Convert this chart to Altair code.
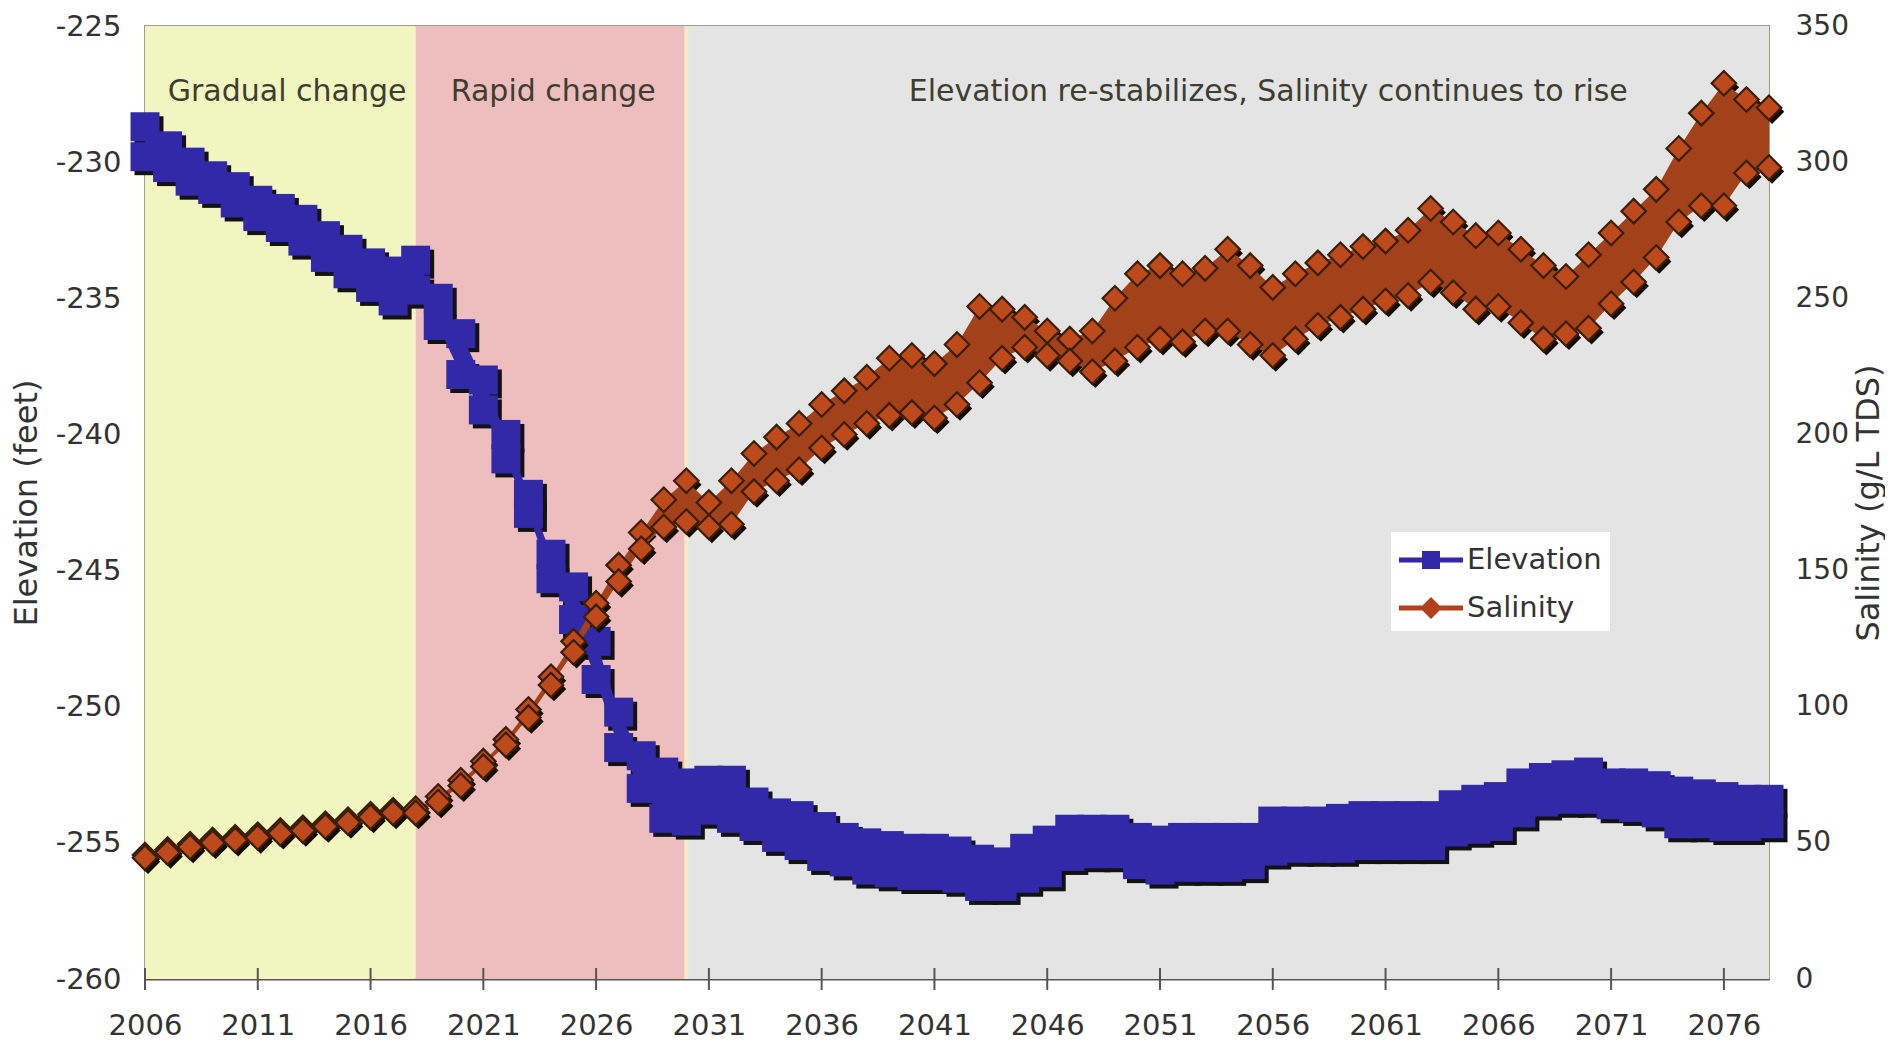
import altair as alt
import pandas as pd

# ---------------- data ----------------
years = list(range(2006, 2079))

# upper / lower edge of the Elevation marker band (feet)
elev_hi = [-228.7, -229.4, -230.0, -230.5, -230.9, -231.4, -231.7, -232.1, -232.7, -233.2,
           -233.7, -234.0, -233.6, -235.0, -236.3, -238.0, -240.0, -242.2, -244.4, -245.6,
           -247.6, -250.2, -251.8, -252.4, -252.8, -252.7, -252.7, -253.5, -253.9, -254.0,
           -254.4, -254.8, -255.0, -255.1, -255.2, -255.2, -255.3, -255.6, -255.7, -255.2,
           -254.9, -254.5, -254.5, -254.5, -254.8, -254.9, -254.8, -254.8, -254.8, -254.8,
           -254.2, -254.2, -254.2, -254.1, -254.0, -254.0, -254.0, -254.0, -253.6, -253.4,
           -253.3, -252.8, -252.6, -252.5, -252.4, -252.8, -252.8, -252.9, -253.1, -253.2,
           -253.3, -253.4, -253.4]
elev_lo = [-229.8, -230.2, -230.7, -231.0, -231.5, -232.0, -232.4, -232.9, -233.5, -234.1,
           -234.6, -235.1, -234.7, -236.0, -237.8, -239.1, -240.9, -242.9, -245.3, -246.8,
           -249.0, -251.5, -253.0, -254.1, -254.2, -253.8, -254.1, -254.4, -254.8, -255.1,
           -255.5, -255.7, -256.0, -256.1, -256.2, -256.2, -256.3, -256.6, -256.6, -256.3,
           -256.1, -255.5, -255.4, -255.4, -255.8, -256.0, -255.9, -255.9, -255.9, -255.8,
           -255.3, -255.2, -255.2, -255.2, -255.1, -255.1, -255.1, -255.1, -254.6, -254.5,
           -254.4, -253.9, -253.5, -253.4, -253.4, -253.6, -253.7, -253.9, -254.3, -254.3,
           -254.4, -254.4, -254.3]

# upper / lower edge of the Salinity marker band (g/L TDS)
sal_hi = [45.5, 47.5, 49.5, 51, 52, 53, 54.5, 55.5, 57, 58.5,
          60.5, 62, 62.5, 67, 73, 80, 88, 99, 111, 124,
          138, 152, 164, 176, 183, 175, 183, 193, 199, 204,
          211, 216, 221, 228, 229, 226, 233, 247, 246, 243,
          238, 235, 238, 250, 259, 262, 259, 261, 268, 262,
          254, 259, 263, 266, 269, 271, 275, 283, 278, 273,
          274, 268, 262, 258, 266, 274, 282, 290, 305, 318,
          329, 323, 320]
sal_lo = [44.5, 46.5, 48.5, 50, 51, 52, 53.5, 54.5, 56, 57.5,
          59.5, 61, 61, 65, 71, 78, 86, 96, 108, 120,
          133, 146, 158, 166, 168, 166, 167, 179, 183, 187,
          195, 200, 204, 207, 208, 206, 211, 219, 228, 232,
          229, 227, 223, 227, 232, 235, 234, 238, 238, 233,
          229, 235, 240, 243, 246, 249, 251, 256, 252, 246,
          247, 241, 235, 237, 239, 248, 256, 265, 278, 284,
          284, 296, 298]

region_start = [2006, 2018, 2030]
region_end = [2018, 2030, 2078]
region_name = ["Gradual change", "Rapid change",
               "Elevation re-stabilizes, Salinity continues to rise"]
region_label_year = [2012.3, 2024.1, 2055.8]
region_color = ["#F1F6C0", "#EEBEBE", "#E4E4E4"]

x_ticks = list(range(2006, 2077, 5))
left_ticks = [-260, -255, -250, -245, -240, -235, -230, -225]
right_ticks = [0, 50, 100, 150, 200, 250, 300, 350]

series = ["Elevation", "Salinity"]
series_color = ["#3129A8", "#B2401C"]

# ---------------- styling ----------------
W, H = 1624, 953
FONT = "DejaVu Sans"
BLUE = "#3129A8"
SAL_FILL = "#BE4A1C"
SAL_BAND = "#A3421A"
TXT = "#333333"

df = pd.DataFrame({"year": years, "elev_hi": elev_hi, "elev_lo": elev_lo,
                   "sal_hi": sal_hi, "sal_lo": sal_lo})
regions = pd.DataFrame({"start": region_start, "end": region_end,
                        "name": region_name, "ly": region_label_year})
ticks_df = pd.DataFrame({"tick": x_ticks})
legend_df = pd.DataFrame({"series": series})
bound_df = pd.DataFrame({"b": [region_start[2]]})

xscale = alt.Scale(domain=[2006, 2078], nice=False, zero=False)
xaxis = alt.Axis(values=x_ticks, format="d", title=None, ticks=False, tickSize=0,
                 domainColor="#555555", domainWidth=2, labelPadding=32,
                 labelFontSize=29, labelColor=TXT, labelFlush=False,
                 labelOverlap=False, grid=False)


def xenc(field):
    return alt.X(field, type="quantitative", scale=xscale, axis=xaxis)


lscale = alt.Scale(domain=[-260, -225], nice=False, zero=False)
laxis = alt.Axis(values=left_ticks, orient="left", ticks=False, tickSize=0, domain=False,
                 labelPadding=24, labelFontSize=29, labelColor=TXT,
                 labelExpr="'' + datum.value",
                 title="Elevation (feet)", titleX=-119, titleY=H / 2, titleAngle=270,
                 titleAlign="center", titleBaseline="middle", titleFontSize=32,
                 titleFontWeight="normal", titleColor=TXT, grid=False,
                 labelFlush=False, labelOverlap=False)
rscale = alt.Scale(domain=[0, 350], nice=False, zero=True)
raxis = alt.Axis(values=right_ticks, orient="right", ticks=False, tickSize=0, domain=False,
                 labelPadding=26, labelFontSize=28, labelColor=TXT,
                 labelExpr="'' + datum.value",
                 title="Salinity (g/L TDS)", titleX=99, titleY=H / 2, titleAngle=270,
                 titleAlign="center", titleBaseline="middle", titleFontSize=32,
                 titleFontWeight="normal", titleColor=TXT, grid=False,
                 labelFlush=False, labelOverlap=False)


def yl(field):
    return alt.Y(field, type="quantitative", scale=lscale, axis=laxis)


def yr(field):
    return alt.Y(field, type="quantitative", scale=rscale, axis=raxis)


# ---------------- background regions & annotations ----------------
bg = alt.Chart(regions).mark_rect(opacity=1).encode(
    x=xenc("start"), x2="end",
    y=alt.value(0), y2=alt.value(H),
    fill=alt.Fill("name:N", scale=alt.Scale(domain=region_name, range=region_color),
                  legend=None),
)
bound = alt.Chart(bound_df).mark_rule(color="#F3EAC6", strokeWidth=4).encode(
    x=xenc("b"), y=alt.value(0), y2=alt.value(H))

labels = alt.Chart(regions).mark_text(font=FONT, fontSize=30, color="#3E3E30",
                                      align="center", baseline="middle").encode(
    x=xenc("ly"), y=alt.value(66), text="name:N")

# ---------------- elevation ----------------
elev_pts = alt.Chart(df).transform_fold(["elev_hi", "elev_lo"], as_=["k", "v"])
elev_shadow = elev_pts.mark_square(size=840, color="#121212", opacity=1,
                                   xOffset=4, yOffset=4).encode(x=xenc("year"), y=yl("v"))
elev_band = alt.Chart(df).mark_area(color=BLUE, opacity=1).encode(
    x=xenc("year"), y=yl("elev_hi"), y2="elev_lo")
elev_sq = elev_pts.mark_square(size=840, color=BLUE, opacity=1).encode(
    x=xenc("year"), y=yl("v"))

xticks_layer = alt.Chart(ticks_df).mark_tick(orient="vertical", size=22, thickness=2,
                                             color="#555555", opacity=1).encode(
    x=xenc("tick"), y=alt.value(H))

p_sq = "M-1,-0.12H2.2V0.12H-1Z M0.15,-0.45H1.05V0.45H0.15Z"
p_di = "M-1,-0.12H2.2V0.12H-1Z M0.6,-0.55L1.15,0L0.6,0.55L0.05,0Z"
leg = alt.Legend(orient="none", legendX=1246, legendY=506, title=None,
                 fillColor="#FFFFFF", padding=8, labelFont=FONT, labelFontSize=29,
                 labelColor=TXT, symbolSize=1600, rowPadding=13, labelOffset=28,
                 symbolStrokeWidth=0, symbolOpacity=1, labelLimit=0)
legend_layer = alt.Chart(legend_df).mark_point(filled=True, opacity=1, clip=True).encode(
    x=alt.value(-600), y=alt.value(-600),
    color=alt.Color("series:N", scale=alt.Scale(domain=series, range=series_color), legend=leg),
    shape=alt.Shape("series:N", scale=alt.Scale(domain=series, range=[p_sq, p_di]), legend=leg),
)

elev_group = alt.layer(elev_shadow, elev_band, elev_sq, xticks_layer, legend_layer)

# ---------------- salinity ----------------
sal_pts = alt.Chart(df).transform_fold(["sal_hi", "sal_lo"], as_=["k", "v"])
sal_shadow = sal_pts.mark_point(shape="diamond", size=600, filled=True, color="#140C02",
                                opacity=1, xOffset=3, yOffset=4).encode(x=xenc("year"), y=yr("v"))
sal_band = alt.Chart(df).mark_area(color=SAL_BAND, opacity=1).encode(
    x=xenc("year"), y=yr("sal_hi"), y2="sal_lo")
sal_di = sal_pts.mark_point(shape="diamond", size=600, filled=True, fill=SAL_FILL,
                            stroke="#3A1E06", strokeWidth=2.2, opacity=1).encode(
    x=xenc("year"), y=yr("v"))

sal_group = alt.layer(sal_shadow, sal_band, sal_di)

chart = alt.layer(bg, bound, elev_group, sal_group, labels).resolve_scale(
    y="independent"
).properties(
    width=W, height=H,
    autosize=alt.AutoSizeParams(type="none"),
    padding={"left": 137, "top": 18, "right": 116, "bottom": 63},
).configure_view(
    stroke="#9C9C8C", strokeWidth=2
).configure_axis(
    labelFont=FONT, titleFont=FONT
).configure_text(font=FONT)

chart.save("out.html", embed_options={"renderer": "svg", "actions": False})
